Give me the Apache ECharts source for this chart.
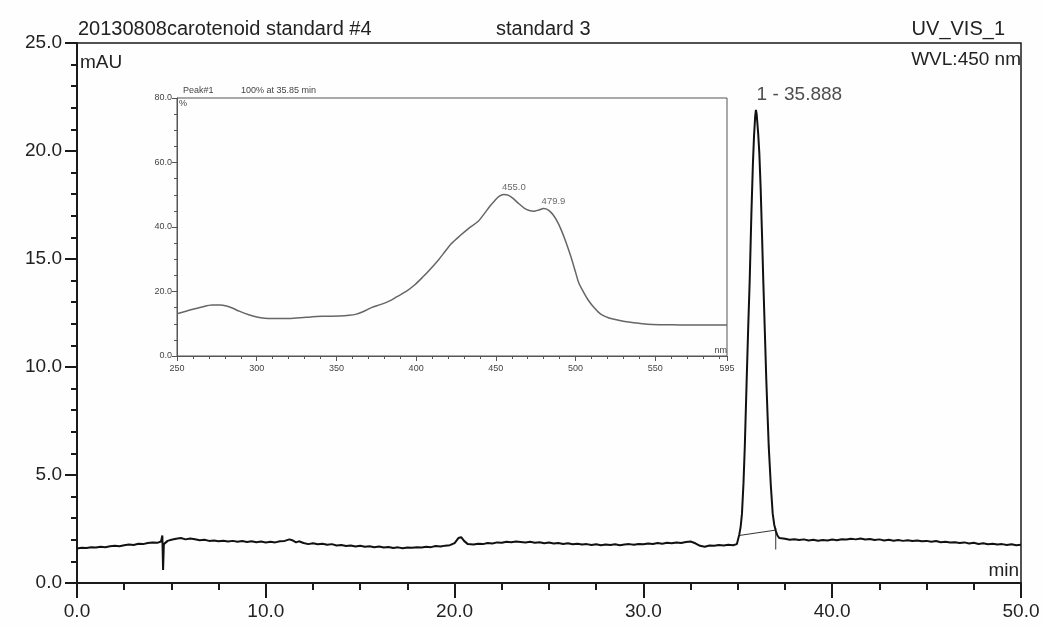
<!DOCTYPE html>
<html><head><meta charset="utf-8">
<script src="https://cdn.jsdelivr.net/npm/echarts/dist/echarts.min.js"></script>
<style>html,body{margin:0;padding:0;background:#fdfefd}#c{width:1043px;height:626px}</style>
</head><body><div id="c"></div>
<script>
// Chromatogram (min, mAU)
const chromTime = [0,0.25,0.5,0.75,1,1.25,1.5,1.75,2,2.25,2.5,2.75,3,3.25,3.5,3.75,4,4.25,4.45,4.52,4.56,4.6,4.7,4.8,5,5.25,5.5,5.75,6,6.25,6.5,6.75,7,7.25,7.5,7.75,8,8.25,8.5,8.75,9,9.25,9.5,9.75,10,10.25,10.5,10.75,11,11.25,11.4,11.6,11.75,12,12.25,12.5,12.75,13,13.25,13.5,13.75,14,14.25,14.5,14.75,15,15.25,15.5,15.75,16,16.25,16.5,16.75,17,17.25,17.5,17.75,18,18.25,18.5,18.75,19,19.25,19.5,19.75,20,20.2,20.35,20.5,20.7,21,21.25,21.5,21.75,22,22.25,22.5,22.75,23,23.25,23.5,23.75,24,24.25,24.5,24.75,25,25.25,25.5,25.75,26,26.25,26.5,26.75,27,27.25,27.5,27.75,28,28.25,28.5,28.75,29,29.25,29.5,29.75,30,30.25,30.5,30.75,31,31.25,31.5,31.75,32,32.25,32.5,32.75,33,33.25,33.5,33.75,34,34.25,34.5,34.75,34.95,35.05,35.08,35.15,35.22,35.3,35.37,35.47,35.55,35.63,35.72,35.8,35.86,35.92,35.96,36,36.08,36.14,36.21,36.28,36.35,36.43,36.51,36.58,36.64,36.75,36.85,36.93,37.01,37.1,37.2,37.3,37.5,37.75,38,38.25,38.5,38.75,39,39.25,39.5,39.75,40,40.25,40.5,40.75,41,41.25,41.5,41.75,42,42.25,42.5,42.75,43,43.25,43.5,43.75,44,44.25,44.5,44.75,45,45.25,45.5,45.75,46,46.25,46.5,46.75,47,47.25,47.5,47.75,48,48.25,48.5,48.75,49,49.25,49.5,49.75,50];
const chromMAU = [1.60,1.63,1.62,1.66,1.64,1.68,1.66,1.70,1.72,1.70,1.75,1.78,1.76,1.82,1.80,1.85,1.88,1.86,1.92,2.20,0.60,1.80,1.75,1.95,2.00,2.05,2.08,2.02,2.06,2.03,1.98,2.00,1.95,1.97,1.93,1.96,1.92,1.95,1.91,1.94,1.90,1.93,1.89,1.92,1.88,1.91,1.88,1.93,1.95,2.02,1.98,1.88,1.93,1.85,1.80,1.84,1.79,1.82,1.77,1.80,1.74,1.76,1.71,1.74,1.69,1.72,1.68,1.70,1.66,1.69,1.64,1.67,1.62,1.65,1.61,1.64,1.63,1.66,1.64,1.68,1.66,1.71,1.69,1.73,1.75,1.85,2.08,2.12,1.95,1.80,1.78,1.82,1.80,1.85,1.83,1.88,1.86,1.91,1.89,1.92,1.90,1.88,1.91,1.86,1.89,1.84,1.87,1.83,1.85,1.81,1.84,1.79,1.82,1.78,1.80,1.76,1.79,1.75,1.78,1.76,1.79,1.75,1.78,1.80,1.77,1.81,1.79,1.83,1.81,1.85,1.82,1.86,1.84,1.88,1.85,1.90,1.92,1.84,1.72,1.68,1.74,1.72,1.76,1.74,1.77,1.75,1.80,1.88,2.25,2.60,3.20,4.60,6.30,9.40,11.8,14.0,17.1,19.4,20.7,21.6,21.9,21.7,20.8,19.9,18.3,16.2,14.0,11.7,9.40,7.70,6.30,4.50,3.20,2.70,2.42,2.20,2.08,2.02,2.05,2.00,2.03,1.99,2.02,1.97,2.00,1.96,1.99,1.97,2.01,1.98,2.03,2.01,2.05,2.02,2.06,2.01,2.04,1.99,2.02,1.97,2.00,1.96,1.99,1.95,1.98,1.94,1.97,1.93,1.95,1.91,1.94,1.89,1.91,1.87,1.89,1.85,1.88,1.83,1.86,1.81,1.84,1.79,1.82,1.78,1.80,1.76,1.79,1.75,1.77];
// integration baseline under the peak
const integTime = [35.08, 37.01];
const integMAU = [2.20, 2.45];
const peakName = '1 - 35.888';
const peakTime = 35.888;
const peakMAU = 21.9;
// inset UV-VIS spectrum (nm, %)
const specNm = [250,255,260,265,272,277,281,285,289,295,300,305,310,320,331,341,352,358,362,367,372,378,383,388,394,399,404,409,414,418,422,428,433,439,443,446,449,452,455,458,461,464,468,471,474,477,480,483,486,489,491,494,497,500,502,505,508,512,516,521,527,532,537,542,548,558,568,580,595];
const specPct = [13.1,13.8,14.5,15.1,15.8,15.8,15.5,14.8,13.9,12.8,12.1,11.7,11.6,11.6,12.0,12.3,12.4,12.6,12.9,13.8,15.0,16.0,17.0,18.4,20.1,22.0,24.4,27.0,29.8,32.3,34.8,37.5,39.6,41.8,44.3,46.3,48.0,49.5,50.1,49.8,48.8,47.4,45.8,45.1,44.9,45.3,45.7,45.2,43.7,41.3,39.1,35.3,30.9,26.0,22.7,19.8,17.3,14.8,12.9,11.8,11.1,10.6,10.3,10.0,9.8,9.7,9.6,9.6,9.6];
const specPeakNm = [455.0, 479.9];
const specPeakPct = [50.1, 45.7];
const specPeakLabels = ['455.0', '479.9'];
// texts
const titleLeft = '20130808carotenoid standard #4';
const titleMid = 'standard 3';
const titleRight = 'UV_VIS_1';
const wavelengthText = 'WVL:450 nm';
const yUnit = 'mAU';
const xUnit = 'min';
const insetTitle1 = 'Peak#1';
const insetTitle2 = '100% at 35.85 min';

const F = '"Liberation Sans", Arial, sans-serif';
const chart = echarts.init(document.getElementById('c'), null, {renderer: 'canvas'});
const zip = (a, b) => a.map((v, i) => [v, b[i]]);
const dark = '#1a1a1a', grey = '#555';

chart.setOption({
  backgroundColor: '#fdfefd',
  animation: false,
  grid: [
    {left: 77, top: 43, width: 944, height: 540, show: true, borderColor: dark, borderWidth: 1.5, backgroundColor: 'transparent'},
    {left: 177, top: 98, width: 550, height: 258, show: true, borderColor: grey, borderWidth: 1, backgroundColor: '#fdfefd', z: 5}
  ],
  xAxis: [
    {gridIndex: 0, type: 'value', min: 0, max: 50, interval: 10,
     axisLine: {lineStyle: {color: dark, width: 2}},
     axisTick: {length: 15, lineStyle: {color: dark, width: 2}},
     minorTick: {show: true, splitNumber: 4, length: 7, lineStyle: {color: dark, width: 2}},
     splitLine: {show: false},
     axisLabel: {margin: 19, fontFamily: F, fontSize: 19, color: '#222', formatter: v => v.toFixed(1)}},
    {gridIndex: 1, type: 'value', min: 250, max: 595, interval: 50, z: 6,
     axisLine: {lineStyle: {color: grey, width: 1}},
     axisTick: {length: 5, lineStyle: {color: grey}},
     minorTick: {show: true, splitNumber: 5, length: 3, lineStyle: {color: grey}},
     splitLine: {show: false},
     axisLabel: {margin: 8, fontFamily: F, fontSize: 9, color: '#444'}}
  ],
  yAxis: [
    {gridIndex: 0, type: 'value', min: 0, max: 25, interval: 5,
     axisLine: {show: true, lineStyle: {color: dark, width: 2}},
     axisTick: {show: true, length: 12, lineStyle: {color: dark, width: 2}},
     minorTick: {show: true, splitNumber: 5, length: 6, lineStyle: {color: dark, width: 2}},
     splitLine: {show: false},
     axisLabel: {margin: 15, fontFamily: F, fontSize: 19, color: '#222', formatter: v => v.toFixed(1)}},
    {gridIndex: 1, type: 'value', min: 0, max: 80, interval: 20, z: 6,
     axisLine: {show: true, lineStyle: {color: grey, width: 1}},
     axisTick: {show: true, length: 5, lineStyle: {color: grey}},
     minorTick: {show: true, splitNumber: 4, length: 3, lineStyle: {color: grey}},
     splitLine: {show: false},
     axisLabel: {margin: 5, fontFamily: F, fontSize: 9, color: '#444', formatter: v => v.toFixed(1)}}
  ],
  series: [
    {type: 'line', xAxisIndex: 0, yAxisIndex: 0, data: zip(chromTime, chromMAU), showSymbol: false, symbol: 'none',
     lineStyle: {color: '#111', width: 2}, z: 3},
    {type: 'line', xAxisIndex: 0, yAxisIndex: 0, data: zip(integTime, integMAU), symbol: 'none',
     lineStyle: {color: '#333', width: 1}, z: 2},
    {type: 'line', xAxisIndex: 0, yAxisIndex: 0, data: [[integTime[1], integMAU[1] + 0.1], [integTime[1], integMAU[1] - 0.9]], symbol: 'none',
     lineStyle: {color: '#333', width: 1}, z: 2},
    {type: 'scatter', xAxisIndex: 0, yAxisIndex: 0, data: [[peakTime, peakMAU]], symbolSize: 0, z: 4,
     label: {show: true, formatter: peakName, position: [2, -25], fontFamily: F, fontSize: 19, color: '#222'}},
    {type: 'line', xAxisIndex: 1, yAxisIndex: 1, data: zip(specNm, specPct), smooth: 0.3, symbol: 'none',
     lineStyle: {color: '#666', width: 1.5}, z: 7},
    {type: 'scatter', xAxisIndex: 1, yAxisIndex: 1, data: zip(specPeakNm, specPeakPct), symbolSize: 0, z: 7,
     label: {show: true, formatter: p => specPeakLabels[p.dataIndex], position: 'top', distance: 2, offset: [10, 0],
             fontFamily: F, fontSize: 9.5, color: '#444'}}
  ],
  graphic: [
    {type: 'text', x: 78, y: 29, style: {text: titleLeft, font: '20px ' + F, fill: '#222', align: 'left', verticalAlign: 'middle'}},
    {type: 'text', x: 496, y: 29, style: {text: titleMid, font: '20px ' + F, fill: '#222', align: 'left', verticalAlign: 'middle'}},
    {type: 'text', x: 1005, y: 29, style: {text: titleRight, font: '20px ' + F, fill: '#222', align: 'right', verticalAlign: 'middle'}},
    {type: 'text', x: 1021, y: 60, style: {text: wavelengthText, font: '19px ' + F, fill: '#222', align: 'right', verticalAlign: 'middle'}},
    {type: 'text', x: 80, y: 63, style: {text: yUnit, font: '19px ' + F, fill: '#222', align: 'left', verticalAlign: 'middle'}},
    {type: 'text', x: 1019, y: 571, style: {text: xUnit, font: '19px ' + F, fill: '#222', align: 'right', verticalAlign: 'middle'}},
    {type: 'text', x: 183, y: 91, z: 10, style: {text: insetTitle1, font: '9px ' + F, fill: '#444', align: 'left', verticalAlign: 'middle'}},
    {type: 'text', x: 241, y: 91, z: 10, style: {text: insetTitle2, font: '9px ' + F, fill: '#444', align: 'left', verticalAlign: 'middle'}},
    {type: 'text', x: 179, y: 104, z: 10, style: {text: '%', font: '9px ' + F, fill: '#444', align: 'left', verticalAlign: 'middle'}},
    {type: 'text', x: 727, y: 351, z: 10, style: {text: 'nm', font: '9px ' + F, fill: '#444', align: 'right', verticalAlign: 'middle'}}
  ]
});
</script>
</body></html>
